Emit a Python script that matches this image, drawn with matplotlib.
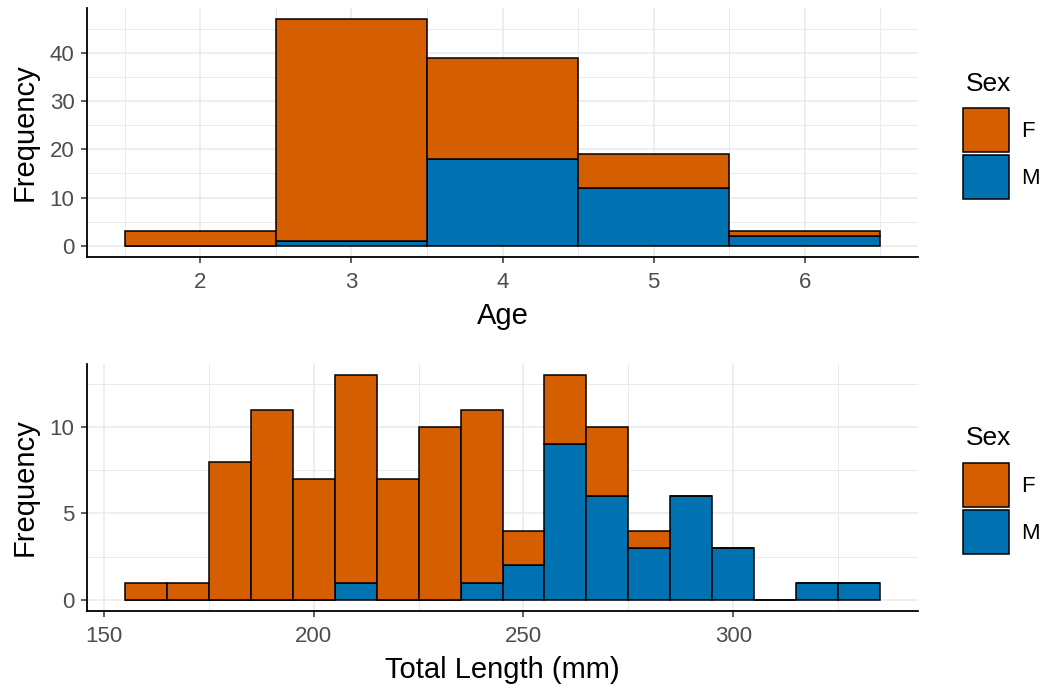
import matplotlib
matplotlib.use("Agg")
import matplotlib.pyplot as plt
from matplotlib.ticker import MultipleLocator
from matplotlib.patches import Patch

plt.rcParams['font.family'] = ['Liberation Sans', 'DejaVu Sans']

# age histogram (bin width 1)
age_mids = [2, 3, 4, 5, 6]
age_f = [3, 46, 21, 7, 1]
age_m = [0, 1, 18, 12, 2]

# total length histogram (bin width 10)
len_mids = [160, 170, 180, 190, 200, 210, 220, 230, 240,
            250, 260, 270, 280, 290, 300, 310, 320, 330]
len_f = [1, 1, 8, 11, 7, 12, 7, 10, 10, 2, 4, 4, 1, 0, 0, 0, 0, 0]
len_m = [0, 0, 0, 0, 0, 1, 0, 0, 1, 2, 9, 6, 3, 6, 3, 0, 1, 1]

col_f = "#D55E00"
col_m = "#0072B2"
grid_col = "#EBEBEF"

W, H = 1043, 692


def panel(ax, mids, f, m, width, xlim, ylim, xmaj, xmin, ymaj, ymin, xlabel,
          title_y, keys_y):
    ax.bar(mids, m, width=width, color=col_m, edgecolor="black", linewidth=1.1)
    ax.bar(mids, f, width=width, bottom=m, color=col_f, edgecolor="black", linewidth=1.1)
    ax.set_xlim(*xlim)
    ax.set_ylim(*ylim)
    ax.xaxis.set_major_locator(MultipleLocator(xmaj))
    ax.xaxis.set_minor_locator(MultipleLocator(xmin))
    ax.yaxis.set_major_locator(MultipleLocator(ymaj))
    ax.yaxis.set_minor_locator(MultipleLocator(ymin))
    ax.grid(which="major", color=grid_col, linewidth=1.2)
    ax.grid(which="minor", color=grid_col, linewidth=0.7)
    ax.set_axisbelow(True)
    for s in ["top", "right"]:
        ax.spines[s].set_visible(False)
    for s in ["left", "bottom"]:
        ax.spines[s].set_linewidth(1.3)
        ax.spines[s].set_color("black")
    ax.tick_params(which="major", length=4, width=1.1, color="#333333",
                   labelsize=16, labelcolor="#4D4D4D")
    ax.tick_params(axis="x", which="major", pad=6.5)
    ax.tick_params(axis="y", which="major", pad=5)
    ax.tick_params(which="minor", length=0)
    ax.set_xlabel(xlabel, fontsize=21, labelpad=7)
    ax.set_ylabel("Frequency", fontsize=21, labelpad=8)

    # legend: title drawn separately so the gap above the keys matches
    fig.text(966 / W, 1 - title_y / H, "Sex", fontsize=19, ha="left", va="center")
    handles = [Patch(facecolor=col_f, edgecolor="black", linewidth=1.1, label="F"),
               Patch(facecolor=col_m, edgecolor="black", linewidth=1.1, label="M")]
    fig.legend(handles=handles, loc="upper left",
               bbox_to_anchor=(963 / W, 1 - keys_y / H), frameon=False,
               fontsize=16, handlelength=2.05, handleheight=2.7,
               labelspacing=0.1, handletextpad=0.55, borderpad=0,
               borderaxespad=0)


fig = plt.figure(figsize=(W / 100, H / 100), dpi=100)
ax1 = fig.add_axes([87 / W, 1 - 257 / H, 831 / W, 249 / H])
ax2 = fig.add_axes([87 / W, 1 - 611 / H, 831 / W, 247 / H])

panel(ax1, age_mids, age_f, age_m, 1.0, (1.25, 6.75), (-2.35, 49.35),
      1, 0.5, 10, 5, "Age", 84, 108)
panel(ax2, len_mids, len_f, len_m, 10.0, (146, 344), (-0.65, 13.65),
      50, 25, 5, 2.5, "Total Length (mm)", 438, 463)

fig.savefig("out.png", dpi=100)
